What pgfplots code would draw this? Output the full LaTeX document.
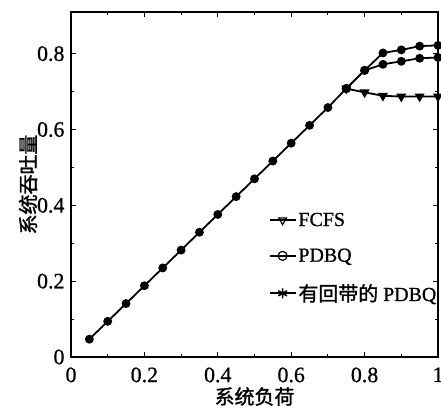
\documentclass[border=0pt]{standalone}
\usepackage{fontspec}
\usepackage{pgfplots}
\pgfplotsset{compat=1.18}
\setmainfont{Liberation Serif}[FakeBold=0.8]
\newfontfamily\cjk{Noto Sans CJK SC}[FakeBold=1.5]

% throughput vs. load
\pgfplotstableread{
x     y
0.05  0.047
0.10  0.094
0.15  0.141
0.20  0.188
0.25  0.235
0.30  0.282
0.35  0.329
0.40  0.376
0.45  0.423
0.50  0.470
0.55  0.517
0.60  0.564
0.65  0.611
0.70  0.658
0.75  0.708
}\common
\pgfplotstableread{
x     y
0.75  0.708
0.80  0.698
0.85  0.689
0.90  0.687
0.95  0.687
1.00  0.687
}\fcfs
\pgfplotstableread{
x     y
0.75  0.708
0.80  0.756
0.85  0.772
0.90  0.780
0.95  0.788
1.00  0.790
}\pdbq
\pgfplotstableread{
x     y
0.75  0.708
0.80  0.756
0.85  0.802
0.90  0.810
0.95  0.820
1.00  0.822
}\band

\begin{document}
\begin{tikzpicture}
\begin{axis}[
  scale only axis,
  width=367bp, height=345bp,
  xmin=0, xmax=1, ymin=0, ymax=0.91,
  xtick={0,0.2,0.4,0.6,0.8,1},
  ytick={0,0.2,0.4,0.6,0.8},
  minor tick num=1,
  tick pos=both, tick align=inside,
  major tick length=5bp, minor tick length=3bp,
  axis line style={line width=2pt},
  every tick/.style={line width=1pt,black},
  /pgf/number format/assume math mode=true,
  tick label style={font=\fontsize{22}{24}\selectfont},
  xticklabel style={yshift=-7bp},
  yticklabel style={xshift=-3bp},
  xlabel={\cjk 系统负荷},
  ylabel={\cjk 系统吞吐量},
  label style={font=\fontsize{20}{22}\selectfont},
  xlabel style={yshift=2bp},
  ylabel style={yshift=-7bp},
  legend style={draw=none, fill=none, at={(0.53,0.43)}, anchor=north west,
    font=\fontsize{20}{22}\selectfont, row sep=17bp},
  legend cell align=left,
  legend image code/.code={
    \draw[mark repeat=2, mark phase=2] plot coordinates {(0bp,0bp) (13bp,0bp) (26bp,0bp)};},
  every axis plot/.append style={line width=1.8pt, black},
]
\addplot[mark=*, mark size=3.5bp, forget plot] table {\common};
\addplot[mark=triangle*, mark size=4bp, mark options={rotate=180}, forget plot] table {\fcfs};
\addplot[mark=*, mark size=3.5bp, forget plot] table {\pdbq};
\addplot[mark=*, mark size=3.5bp, forget plot] table {\band};
\addlegendimage{line width=1.5pt, mark=triangle, mark size=4.5bp, mark options={rotate=180, line width=1.2pt}}
\addlegendentry{FCFS}
\addlegendimage{line width=1.5pt, mark=o, mark size=4.5bp, mark options={line width=1.2pt}}
\addlegendentry{PDBQ}
\addlegendimage{line width=1.8pt, mark=asterisk, mark size=5bp, mark options={line width=1.6pt}}
\addlegendentry{{\cjk 有回带的} PDBQ}
\end{axis}
\pgfresetboundingbox
\path ([shift={(-71bp,-57bp)}]current axis.south west) rectangle ([shift={(3bp,12bp)}]current axis.north east);
\end{tikzpicture}
\end{document}
